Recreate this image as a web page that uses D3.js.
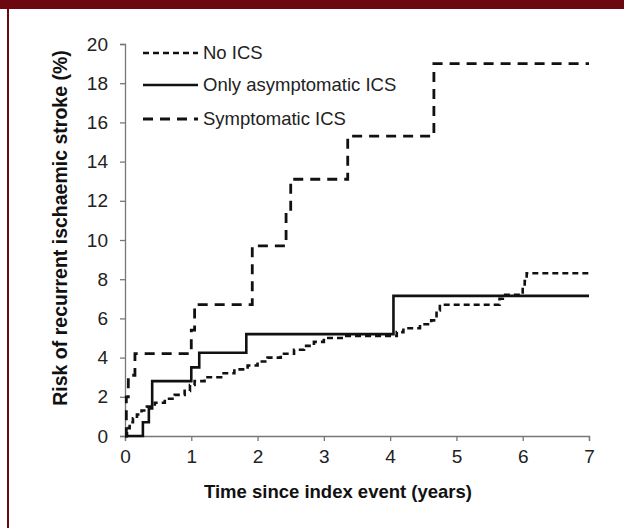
<!DOCTYPE html>
<html>
<head>
<meta charset="utf-8">
<script src="https://cdn.jsdelivr.net/npm/d3@7"></script>
<style>
  body { margin: 0; background: #fff; }
  svg { display: block; }
</style>
</head>
<body>
<svg></svg>
<script>
// data: [years, risk %]
let noIcs = [[0,0],[0.03,0.4],[0.07,0.7],[0.12,0.9],[0.18,1.1],[0.25,1.3],[0.33,1.5],[0.45,1.7],[0.6,1.9],
  [0.75,2.1],[0.9,2.3],[0.98,2.6],[1.05,2.8],[1.2,3.0],[1.45,3.2],[1.65,3.4],[1.85,3.6],[2.0,3.8],
  [2.15,4.0],[2.35,4.2],[2.55,4.4],[2.7,4.6],[2.85,4.8],[3.0,5.0],[3.3,5.1],[4.1,5.3],[4.2,5.5],
  [4.45,5.7],[4.62,5.9],[4.7,6.4],[4.75,6.7],[5.65,7.0],[5.7,7.2],[6.0,7.5],[6.03,7.9],[6.06,8.3],[7,8.3]]
let asymIcs = [[0,0],[0.27,0.7],[0.36,1.4],[0.41,2.8],[1.0,3.5],[1.12,4.25],[1.83,5.2],[4.05,7.15],[7,7.15]]
let sympIcs = [[0,0],[0.02,2.0],[0.05,3.1],[0.15,4.2],[1.0,5.4],[1.05,6.7],[1.92,9.7],[2.43,11.4],
  [2.5,13.1],[3.36,15.3],[4.66,19.0],[7,19.0]]

let seriesNames = ["No ICS", "Only asymptomatic ICS", "Symptomatic ICS"]
let xTicks = [0, 1, 2, 3, 4, 5, 6, 7]
let yTicks = [0, 2, 4, 6, 8, 10, 12, 14, 16, 18, 20]

let width = 624
let height = 528
let font = "Liberation Sans, Arial, sans-serif"

let svg = d3.select("svg")
svg.attr("width", width).attr("height", height)

// frame: dark red bar on top and thin line on the left
svg.append("rect").attr("x", 0).attr("y", 0).attr("width", width).attr("height", 9).attr("fill", "#6b0810")
svg.append("rect").attr("x", 7).attr("y", 0).attr("width", 2).attr("height", height).attr("fill", "#6b0810")

let xScale = d3.scaleLinear().domain([0, 7]).range([125, 589])
let yScale = d3.scaleLinear().domain([0, 20]).range([436, 44])

let xAxis = d3.axisBottom(xScale).tickValues(xTicks).tickFormat(d3.format("d")).tickSize(5).tickPadding(9)
let yAxis = d3.axisLeft(yScale).tickValues(yTicks).tickFormat(d3.format("d")).tickSize(5).tickPadding(12)

let gx = svg.append("g").attr("transform", "translate(0," + yScale(0) + ")").call(xAxis)
let gy = svg.append("g").attr("transform", "translate(" + xScale(0) + ",0)").call(yAxis)

for (let g of [gx, gy]) {
  g.select(".domain").attr("stroke", "#777").attr("stroke-width", 1.3)
  g.selectAll(".tick line").attr("stroke", "#777").attr("stroke-width", 1.3)
  g.selectAll(".tick text").attr("fill", "#222").style("font-family", font).style("font-size", "19px")
}

let styles = [
  { dash: "6,4", width: 2.6 },
  { dash: null, width: 2.6 },
  { dash: "10,7", width: 2.8 }
]

let line = d3.line()
  .x(d => xScale(d[0]))
  .y(d => yScale(d[1]))
  .curve(d3.curveStepAfter)

let allSeries = [noIcs, asymIcs, sympIcs]
allSeries.forEach((s, i) => {
  svg.append("path")
    .datum(s)
    .attr("d", line)
    .attr("fill", "none")
    .attr("stroke", "#111")
    .attr("stroke-width", styles[i].width)
    .attr("stroke-dasharray", styles[i].dash)
})

// legend
let legendY = [53, 85, 119]
seriesNames.forEach((name, i) => {
  svg.append("line")
    .attr("x1", 143).attr("x2", 198)
    .attr("y1", legendY[i]).attr("y2", legendY[i])
    .attr("stroke", "#111")
    .attr("stroke-width", styles[i].width)
    .attr("stroke-dasharray", styles[i].dash)
  svg.append("text")
    .attr("x", 203).attr("y", legendY[i])
    .attr("dy", "0.35em")
    .attr("fill", "#222")
    .style("font-family", font)
    .style("font-size", "18.5px")
    .text(name)
})

// axis titles
svg.append("text")
  .attr("x", 338).attr("y", 498)
  .attr("text-anchor", "middle")
  .attr("fill", "#111")
  .style("font-family", font)
  .style("font-size", "18.5px")
  .style("font-weight", "bold")
  .text("Time since index event (years)")

svg.append("text")
  .attr("transform", "translate(60,228) rotate(-90)")
  .attr("text-anchor", "middle")
  .attr("dy", "0.35em")
  .attr("fill", "#111")
  .style("font-family", font)
  .style("font-size", "19.5px")
  .style("font-weight", "bold")
  .text("Risk of recurrent ischaemic stroke (%)")
</script>
</body>
</html>
